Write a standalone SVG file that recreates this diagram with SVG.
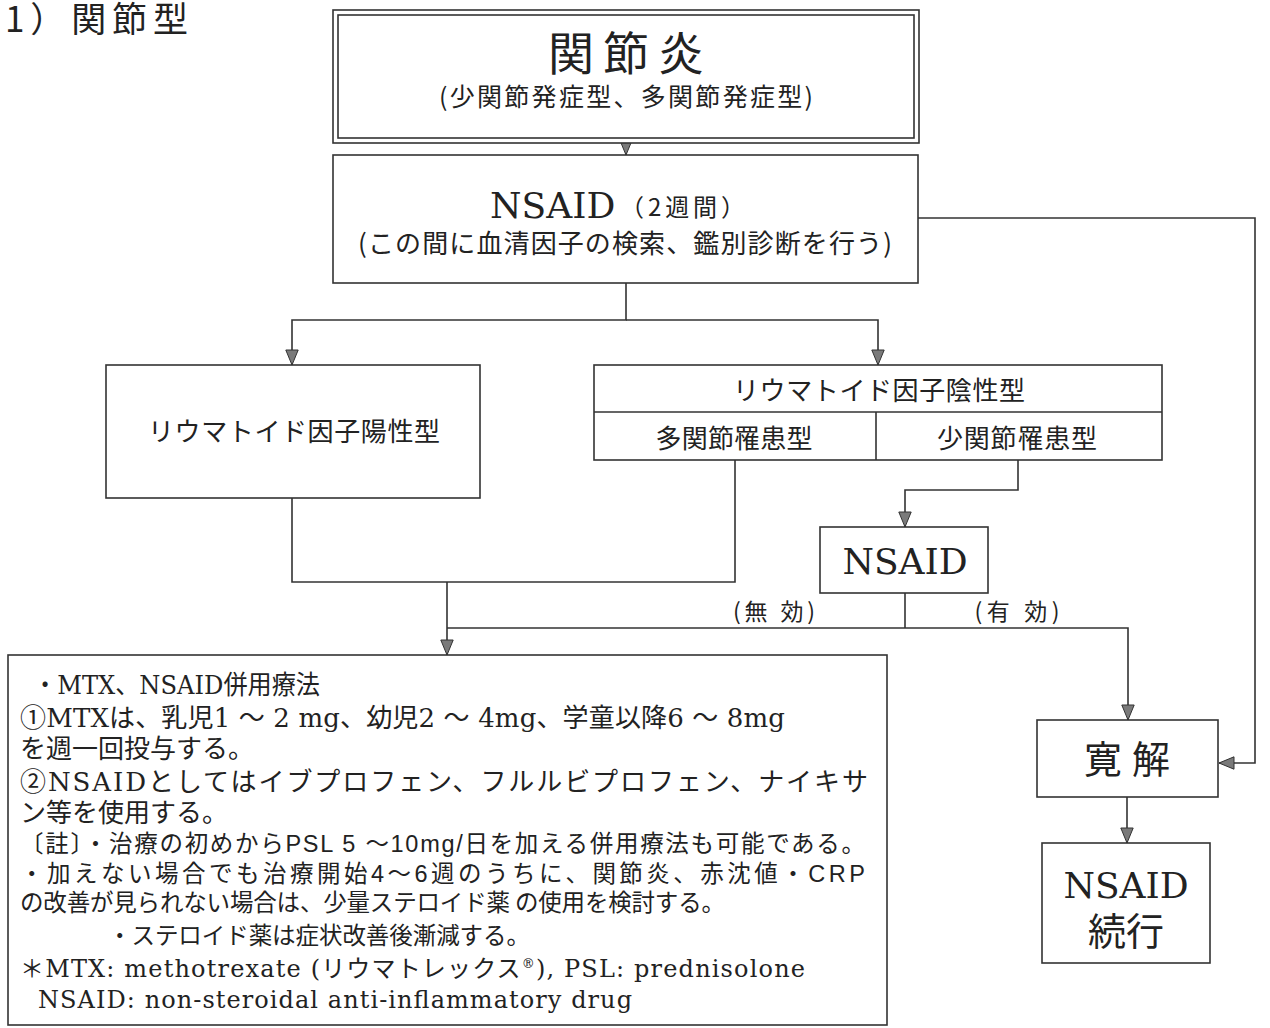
<svg xmlns="http://www.w3.org/2000/svg" width="1270" height="1028" viewBox="0 0 1270 1028">
<defs>
<marker id="ah" markerUnits="userSpaceOnUse" markerWidth="17" markerHeight="15" refX="16" refY="7" orient="auto" viewBox="0 0 17 14">
<path d="M1,0.8 L16,7 L1,13.2 Z" fill="#7a7a7a" stroke="#333" stroke-width="1"/>
</marker>
<style>
.box{fill:#fff;stroke:#333;stroke-width:1.6}
.ln{fill:none;stroke:#333;stroke-width:1.6}
.j{font-family:"Noto Sans CJK JP",sans-serif;fill:#222}
.s{font-family:"DejaVu Serif","Noto Sans CJK JP",serif;fill:#222}
.d{font-family:"DejaVu Serif",serif}
.g{font-family:"Liberation Sans","Noto Sans CJK JP",sans-serif}
</style>
</defs>
<rect width="1270" height="1028" fill="#fff"/>
<text class="j" x="5" y="32" font-size="35" fill="#333" textLength="183" lengthAdjust="spacing">1）関節型</text>

<g id="connectors">
<path class="ln" d="M626,143 V155" marker-end="url(#ah)"/>
<path class="ln" d="M626,283 V320 H292 V365" marker-end="url(#ah)"/>
<path class="ln" d="M626,320 H878 V365" marker-end="url(#ah)"/>
<path class="ln" d="M918,218 H1255 V763 H1219" marker-end="url(#ah)"/>
<path class="ln" d="M292,498 V582 H735 V460"/>
<path class="ln" d="M447,582 V655" marker-end="url(#ah)"/>
<path class="ln" d="M1018,460 V490 H905 V527" marker-end="url(#ah)"/>
<path class="ln" d="M905,593 V628"/>
<path class="ln" d="M447,628 H1128 V720" marker-end="url(#ah)"/>
<path class="ln" d="M1127,797 V843" marker-end="url(#ah)"/>
</g>

<g id="node-arthritis">
<rect class="box" x="333" y="10" width="586" height="133"/>
<rect class="box" x="338" y="15" width="576" height="123"/>
<text class="j" x="626" y="70" font-size="46" text-anchor="middle" textLength="156" lengthAdjust="spacing">関節炎</text>
<text class="j" x="626" y="106" font-size="25" text-anchor="middle" textLength="374" lengthAdjust="spacing">(少関節発症型、多関節発症型)</text>
</g>

<g id="node-nsaid1">
<rect class="box" x="333" y="155" width="585" height="128"/>
<text class="d" x="490" y="218" font-size="36" fill="#222">NSAID</text>
<text class="j" x="620" y="216" font-size="24" textLength="125" lengthAdjust="spacing">（2週間）</text>
<text class="j" x="625" y="253" font-size="26" text-anchor="middle" textLength="534" lengthAdjust="spacing">(この間に血清因子の検索、鑑別診断を行う)</text>
</g>

<g id="node-rf-pos">
<rect class="box" x="106" y="365" width="374" height="133"/>
<text class="j" x="294" y="441" font-size="26" text-anchor="middle" textLength="292" lengthAdjust="spacing">リウマトイド因子陽性型</text>
</g>

<g id="node-rf-neg">
<rect class="box" x="594" y="365" width="568" height="95"/>
<path class="ln" d="M594,412 H1162 M876,412 V460"/>
<text class="j" x="879" y="400" font-size="26" text-anchor="middle" textLength="292" lengthAdjust="spacing">リウマトイド因子陰性型</text>
<text class="j" x="734" y="448" font-size="26" text-anchor="middle" textLength="157" lengthAdjust="spacing">多関節罹患型</text>
<text class="j" x="1017" y="448" font-size="26" text-anchor="middle" textLength="160" lengthAdjust="spacing">少関節罹患型</text>
</g>

<g id="node-nsaid2">
<rect class="box" x="820" y="527" width="168" height="66"/>
<text class="d" x="905" y="574" font-size="36" text-anchor="middle" fill="#222">NSAID</text>
</g>

<g id="labels">
<text class="j" x="774" y="620" font-size="23" text-anchor="middle" textLength="82" lengthAdjust="spacing">(無 効)</text>
<text class="j" x="1017" y="620" font-size="23" text-anchor="middle" textLength="85" lengthAdjust="spacing">(有 効)</text>
</g>

<g id="node-mtx">
<rect class="box" x="8" y="655" width="879" height="370"/>
<text class="s" x="33" y="694" font-size="26" textLength="287" lengthAdjust="spacingAndGlyphs">・MTX、NSAID併用療法</text>
<text class="s" x="20" y="727" font-size="26" textLength="765" lengthAdjust="spacing">①MTXは、乳児1 ～ 2 mg、幼児2 ～ 4mg、学童以降6 ～ 8mg</text>
<text class="s" x="20" y="758" font-size="26">を週一回投与する。</text>
<text class="s" x="20" y="791" font-size="26" textLength="848" lengthAdjust="spacing">②NSAIDとしてはイブプロフェン、フルルビプロフェン、ナイキサ</text>
<text class="s" x="20" y="822" font-size="26">ン等を使用する。</text>
<text class="j" x="20" y="852" font-size="23.5" textLength="845" lengthAdjust="spacing">〔註〕・治療の初めから<tspan class="g">PSL 5 ～10mg/</tspan>日を加える併用療法も可能である。</text>
<text class="j" x="20" y="882" font-size="23.5" textLength="845" lengthAdjust="spacing">・加えない場合でも治療開始<tspan class="g">4～6</tspan>週のうちに、関節炎、赤沈値・<tspan class="g">CRP</tspan></text>
<text class="j" x="20" y="911" font-size="23.5" textLength="705" lengthAdjust="spacing">の改善が見られない場合は、少量ステロイド薬 の使用を検討する。</text>
<text class="j" x="108" y="944" font-size="23.5" textLength="422" lengthAdjust="spacing">・ステロイド薬は症状改善後漸減する。</text>
<text class="s" x="20" y="977" font-size="24" textLength="785" lengthAdjust="spacing">＊MTX: methotrexate (リウマトレックス<tspan font-size="13" dy="-9">®</tspan><tspan dy="9">), PSL: prednisolone</tspan></text>
<text class="s" x="38" y="1008" font-size="24" textLength="594" lengthAdjust="spacing">NSAID: non-steroidal anti-inflammatory drug</text>
</g>

<g id="node-remission">
<rect class="box" x="1037" y="720" width="181" height="77"/>
<text class="j" x="1127" y="773" font-size="38" text-anchor="middle" textLength="86" lengthAdjust="spacing">寛 解</text>
</g>

<g id="node-continue">
<rect class="box" x="1042" y="843" width="168" height="120"/>
<text class="d" x="1126" y="898" font-size="36" text-anchor="middle" fill="#222">NSAID</text>
<text class="j" x="1126" y="945" font-size="38" text-anchor="middle">続行</text>
</g>
</svg>
